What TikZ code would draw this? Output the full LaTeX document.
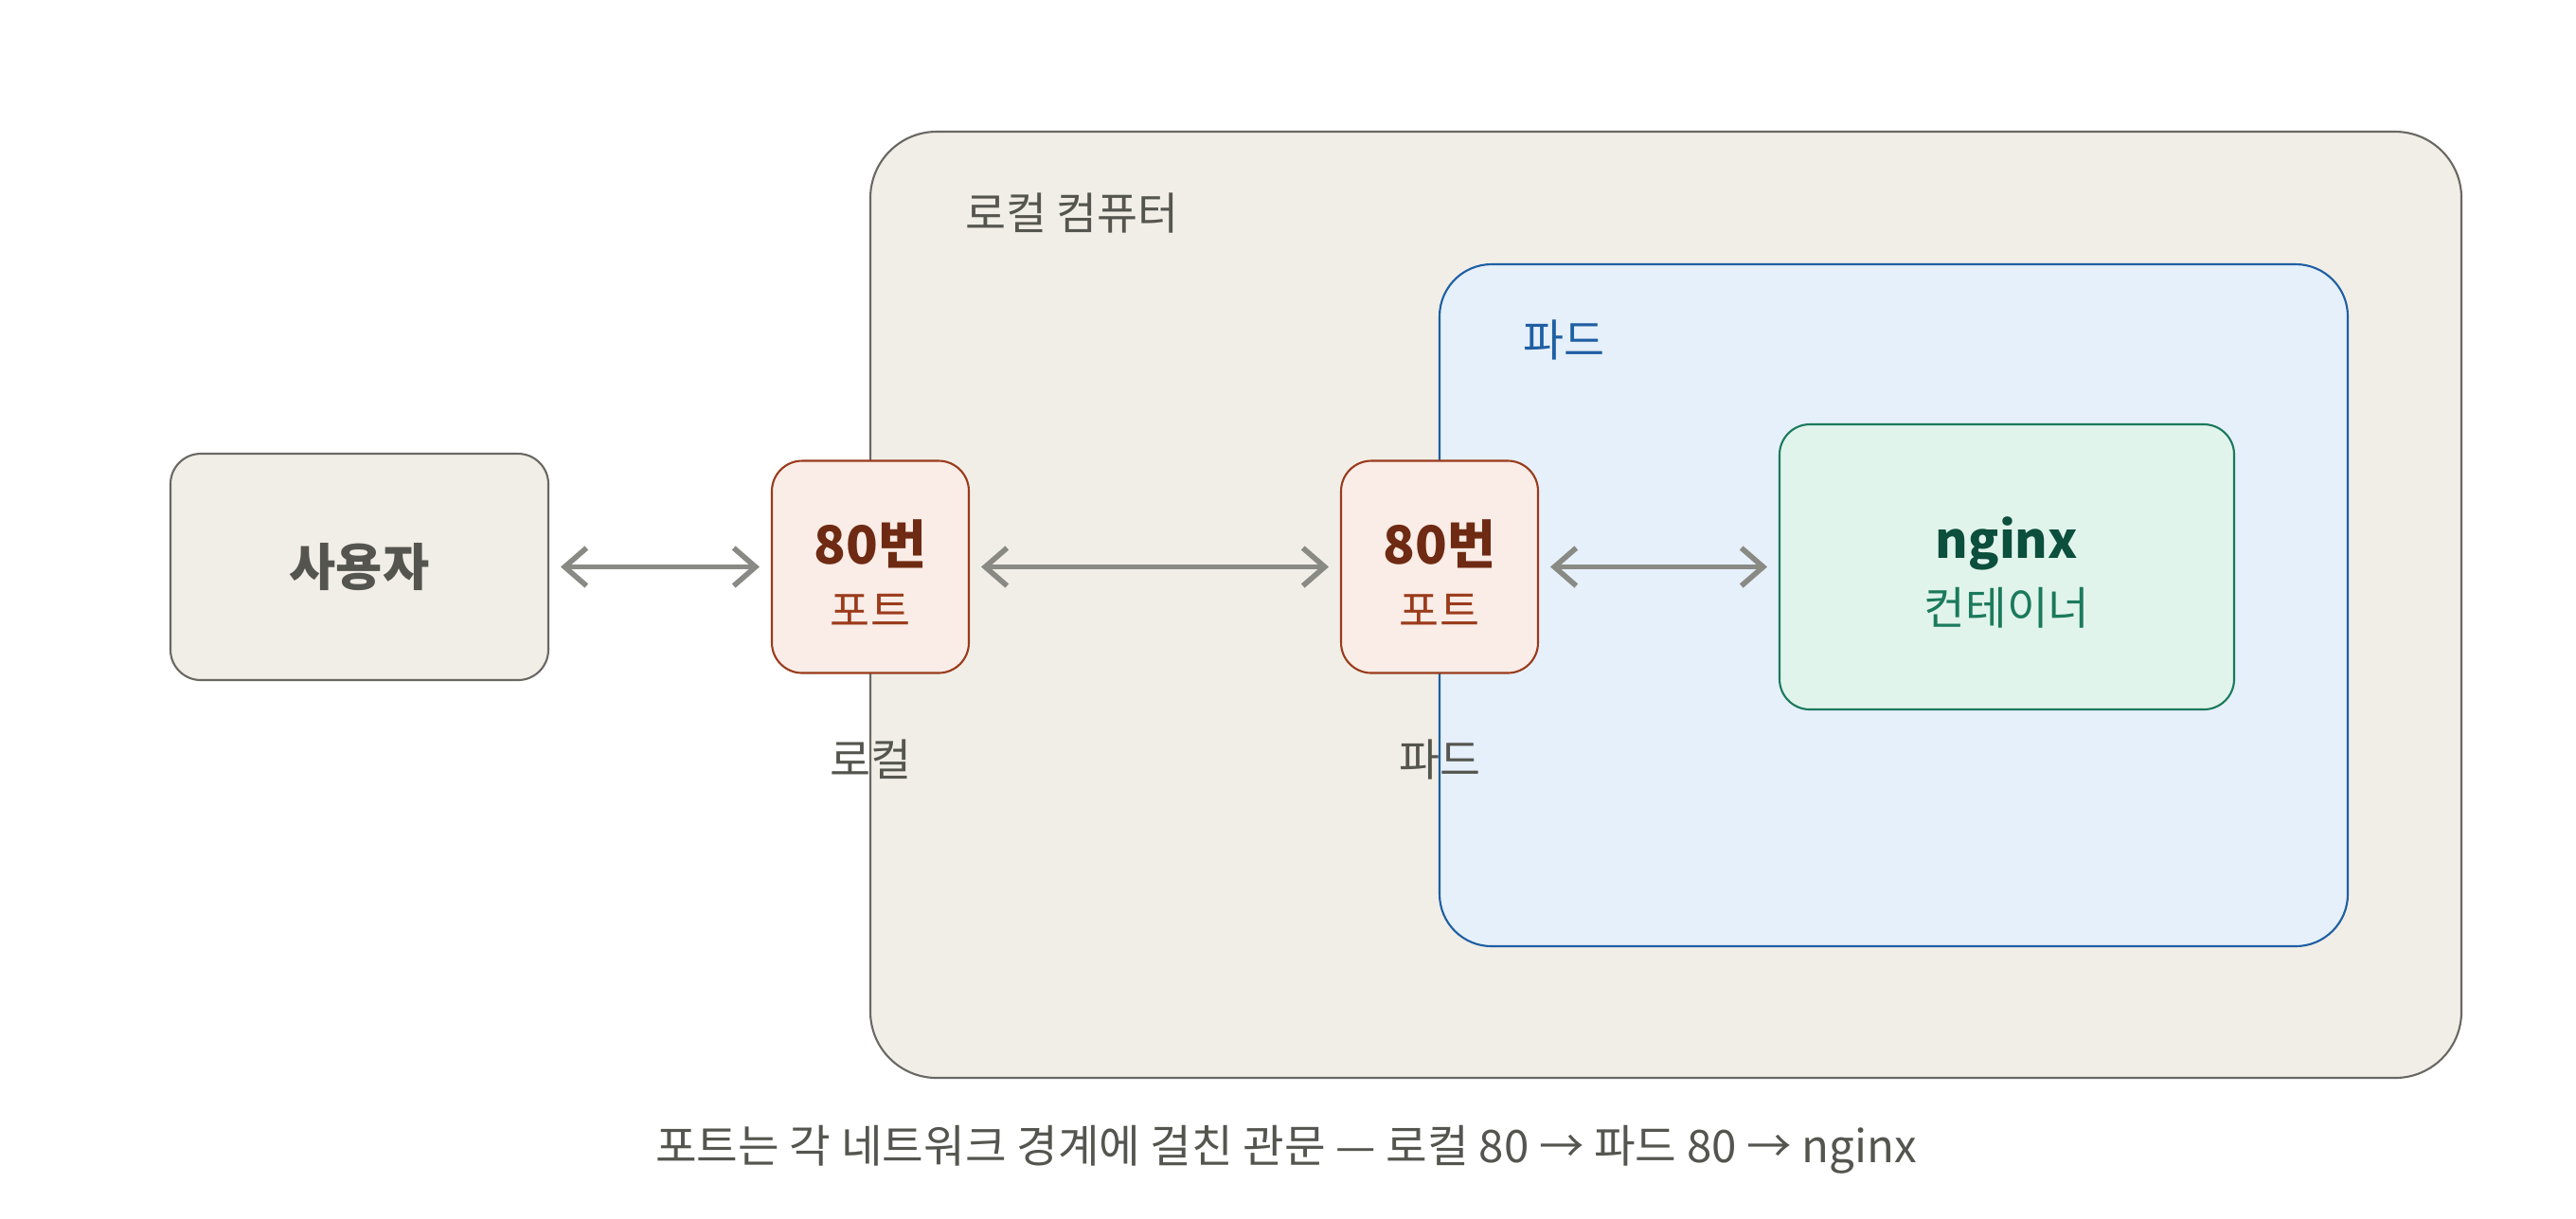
\documentclass[tikz,border=0pt]{standalone}
\usepackage{fontspec}
\setmainfont{Noto Sans CJK KR}
\usetikzlibrary{arrows.meta,positioning}
\definecolor{bg}{HTML}{F1EEE7}
\definecolor{edge}{HTML}{6A6863}
\definecolor{ink}{HTML}{55554F}
\definecolor{podbg}{HTML}{E6F0FA}
\definecolor{podln}{HTML}{1F5FA3}
\definecolor{portbg}{HTML}{FAECE6}
\definecolor{portln}{HTML}{9A3B1C}
\definecolor{portink}{HTML}{6E2A12}
\definecolor{ctrbg}{HTML}{E1F4EC}
\definecolor{ctrln}{HTML}{1B7A5C}
\definecolor{ctrink}{HTML}{0B4F3C}
\definecolor{wire}{HTML}{8A8A85}
\tikzset{
  box/.style={draw,line width=0.6pt,rounded corners=0.32cm,align=center,outer sep=0pt},
  portbox/.style={box,draw=portln,fill=portbg,minimum width=2.08cm,minimum height=2.24cm},
  link/.style={{Straight Barb[length=2.3mm,width=4mm]}-{Straight Barb[length=2.3mm,width=4mm]},wire,line width=1.6pt,line cap=round,shorten <=1.3mm,shorten >=1.3mm}
}
\newcommand{\portlbl}{{\rule{0pt}{17pt}\fontsize{15.8}{18}\bfseries\color{portink}80번}\\[3pt]{\fontsize{13}{15}\selectfont\color{portln}포트}}

\begin{document}
\begin{tikzpicture}[every node/.style={font=\fontsize{13.3}{16}\selectfont,text=ink}]
\useasboundingbox (0,0) rectangle (27.2,-12.86);
% network zones
\draw[line width=0.6pt,draw=edge,fill=bg,rounded corners=0.7cm] (9.19,-1.39) rectangle (25.99,-11.38);
\draw[line width=0.6pt,draw=podln,fill=podbg,rounded corners=0.55cm] (15.20,-2.79) rectangle (24.79,-9.99);
\node[anchor=west] (hostlbl) at (10.07,-2.25) {로컬 컴퓨터};
\node[anchor=west,text=podln] (podlbl) at (15.96,-3.59) {파드};
% boxes
\node[box,draw=edge,fill=bg,minimum width=3.99cm,minimum height=2.39cm,font=\fontsize{15.2}{18}\bfseries] (user) at (3.795,-5.985) {사용자};
\node[portbox,right=2.36cm of user] (hostport) {\portlbl};
\node[portbox,right=3.93cm of hostport] (podport) {\portlbl};
\node[box,draw=ctrln,fill=ctrbg,minimum width=4.80cm,minimum height=3.01cm,right=2.55cm of podport] (nginx) {{\rule{0pt}{16pt}\fontsize{15}{18}\bfseries\color{ctrink}nginx}\\[4pt]{\fontsize{13.5}{17}\selectfont\color{ctrln}컨테이너}};
% port captions
\node[below=0.58cm of hostport] (hostcap) {로컬};
\node[below=0.58cm of podport] (podcap) {파드};
% links
\draw[link] (user)--(hostport); \draw[link] (hostport)--(podport); \draw[link] (podport)--(nginx);
\node[font=\fontsize{13.5}{16}\selectfont] (note) at (13.58,-12.14) {포트는 각 네트워크 경계에 걸친 관문 — 로컬 80 → 파드 80 → nginx};
\end{tikzpicture}
\end{document}
